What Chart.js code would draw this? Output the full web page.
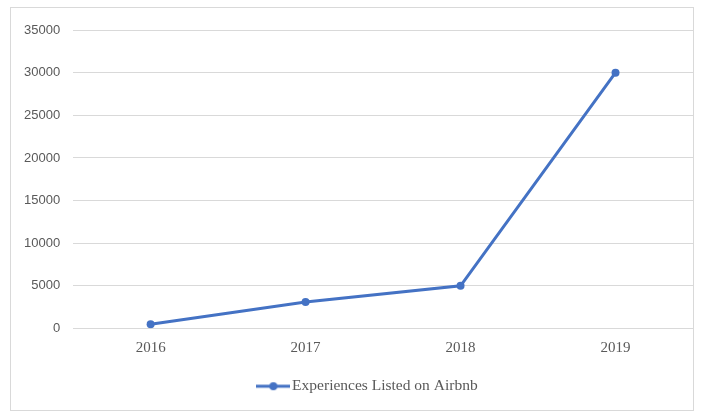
<!DOCTYPE html>
<html>
<head>
<meta charset="utf-8">
<script src="https://cdn.jsdelivr.net/npm/chart.js@4/dist/chart.umd.min.js"></script>
<style>
  html, body { margin: 0; padding: 0; background: #fff; }
  #wrap { position: relative; width: 705px; height: 414px; }
  #frame { position: absolute; left: 10px; top: 7px; width: 684px; height: 404px; border: 1px solid #d9d9d9; box-sizing: border-box; pointer-events: none; }
  canvas { position: absolute; left: 0; top: 0; }
</style>
</head>
<body>
<div id="wrap">
  <canvas id="chart" width="705" height="414"></canvas>
  <div id="frame"></div>
</div>
<script>
// Data
const years = ["2016", "2017", "2018", "2019"];
const experiences = [500, 3100, 5000, 30000];
const seriesName = "Experiences Listed on Airbnb";

const blue = "#4472c4";

// Legend marker: short line with a dot in the middle
function legendMarker() {
  const c = document.createElement("canvas");
  c.width = 34;
  c.height = 10;
  const g = c.getContext("2d");
  g.strokeStyle = blue;
  g.lineWidth = 3;
  g.beginPath();
  g.moveTo(0, 5);
  g.lineTo(34, 5);
  g.stroke();
  g.fillStyle = blue;
  g.beginPath();
  g.arc(17, 5, 4, 0, Math.PI * 2);
  g.fill();
  return c;
}

// The legend sits centred under the plot area, not the whole canvas
const legendShift = {
  id: "legendShift",
  afterLayout(chart) {
    chart.legend.left += 18;
    chart.legend.right += 18;
  }
};

const ctx = document.getElementById("chart").getContext("2d");
new Chart(ctx, {
  type: "line",
  data: {
    labels: years,
    datasets: [{
      label: seriesName,
      data: experiences,
      borderColor: blue,
      backgroundColor: blue,
      borderWidth: 3,
      pointRadius: 4,
      pointBackgroundColor: blue,
      pointBorderWidth: 0,
      pointStyle: "circle",
      tension: 0
    }]
  },
  plugins: [legendShift],
  options: {
    responsive: false,
    animation: false,
    layout: { padding: { left: 11, right: 12, top: 30, bottom: 10 } },
    plugins: {
      tooltip: { enabled: false },
      legend: {
        position: "bottom",
        labels: {
          usePointStyle: true,
          pointStyle: legendMarker(),
          pointStyleWidth: 22,
          padding: 18,
          color: "#595959",
          font: { family: "'Liberation Serif', serif", size: 15.5 }
        }
      }
    },
    scales: {
      x: {
        offset: true,
        grid: { display: false },
        border: { display: false },
        ticks: {
          color: "#595959",
          padding: 3,
          font: { family: "'Liberation Serif', serif", size: 15 }
        }
      },
      y: {
        min: 0,
        max: 35000,
        grid: { color: "#d9d9d9", tickLength: 0 },
        border: { display: false },
        ticks: {
          stepSize: 5000,
          padding: 13,
          color: "#595959",
          font: { family: "'Liberation Sans', sans-serif", size: 13 },
          callback: v => String(v)
        }
      }
    }
  }
});
</script>
</body>
</html>
